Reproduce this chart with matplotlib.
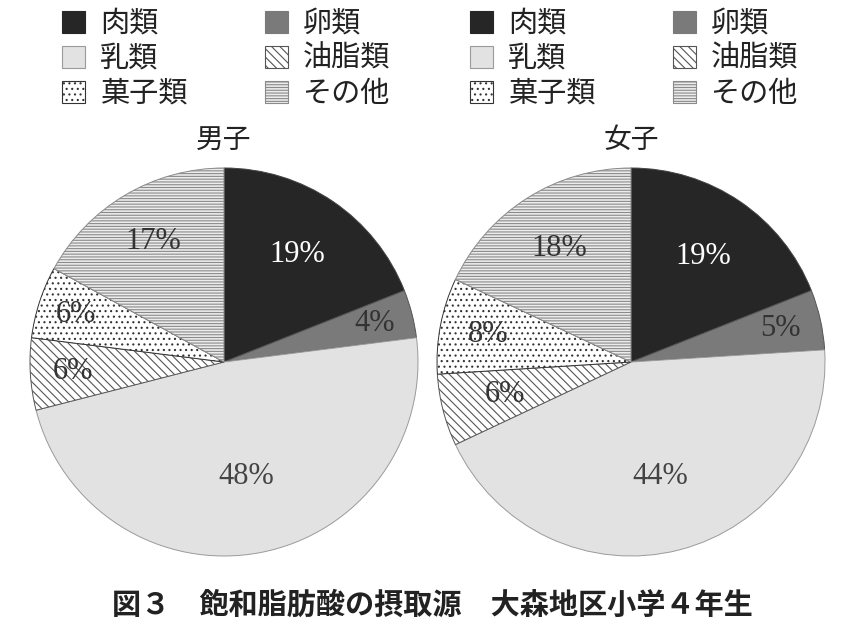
import numpy as np
import matplotlib.pyplot as plt
from matplotlib.patches import Patch

plt.rcParams['font.family'] = ['Noto Sans CJK JP', 'DejaVu Sans']
plt.rcParams['hatch.linewidth'] = 0.8

##################   Data   #########################

categories = ['肉類', '卵類', '乳類', '油脂類', '菓子類', 'その他']
boys = [19, 4, 48, 6, 6, 17]
girls = [19, 5, 44, 6, 8, 18]
titles = ['男子', '女子']
caption = '図３　飽和脂肪酸の摂取源　大森地区小学４年生'

###############   Styles   ########################

faces = ['#262626', '#7a7a7a', '#e2e2e2', 'white', 'white', '#ececec']
edges = ['#444444', '#555555', '#9a9a9a', '#555555', '#333333', '#8a8a8a']
hatches = [None, None, None, '\\\\\\\\', '...', '------']
txtcol = ['white', '#333333', '#444444', '#333333', '#333333', '#333333']
lab_r = {0: [0.67, 0.80, 0.60, 0.78, 0.80, 0.72],
         1: [0.66, 0.79, 0.61, 0.67, 0.75, 0.69]}

W, H = 854, 628
fig = plt.figure(figsize=(W / 100, H / 100), dpi=100)

R = 194
centers = [(224, 362), (631, 362)]

for k, (vals, (cx, cy)) in enumerate(zip([boys, girls], centers)):
    ax = fig.add_axes([(cx - R) / W, (H - cy - R) / H, 2 * R / W, 2 * R / H])
    wedges, _ = ax.pie(vals, startangle=90, counterclock=False, radius=1,
                       colors=faces, wedgeprops=dict(linewidth=0.7))
    for i, w in enumerate(wedges):
        w.set_edgecolor(edges[i])
        if hatches[i]:
            w.set_hatch(hatches[i])
        mid = np.deg2rad((w.theta1 + w.theta2) / 2)
        r = lab_r[k][i]
        ax.text(r * np.cos(mid), r * np.sin(mid), f'{vals[i]}%',
                ha='center', va='center', fontsize=22,
                family='Liberation Serif', color=txtcol[i])
    ax.set_xlim(-1, 1)
    ax.set_ylim(-1, 1)
    ax.set_aspect('equal')
    ax.axis('off')
    fig.text(cx / W, 1 - 140 / H, titles[k], ha='center', va='center',
             fontsize=20, color='#222222')

    # legend (row-wise order like the original)
    handles = []
    for i in range(len(categories)):
        handles.append(Patch(facecolor=faces[i], edgecolor=edges[i] if i > 1 else faces[i],
                             hatch=hatches[i], linewidth=0.8, label=categories[i]))
    order = [0, 2, 4, 1, 3, 5]
    lx = [62, 470][k]
    fig.legend([handles[j] for j in order], [categories[j] for j in order],
               loc='upper left', bbox_to_anchor=(lx / W, 1 - 9 / H), ncol=2,
               frameon=False, fontsize=21, handlelength=0.8, handleheight=0.8,
               handletextpad=0.5, columnspacing=2.65, labelspacing=0.17,
               borderpad=0, borderaxespad=0, labelcolor='#222222')

fig.text(432 / W, 1 - 605 / H, caption, ha='center', va='center',
         fontsize=21, fontweight='bold', color='#222222')

plt.savefig('out.png', dpi=100)
